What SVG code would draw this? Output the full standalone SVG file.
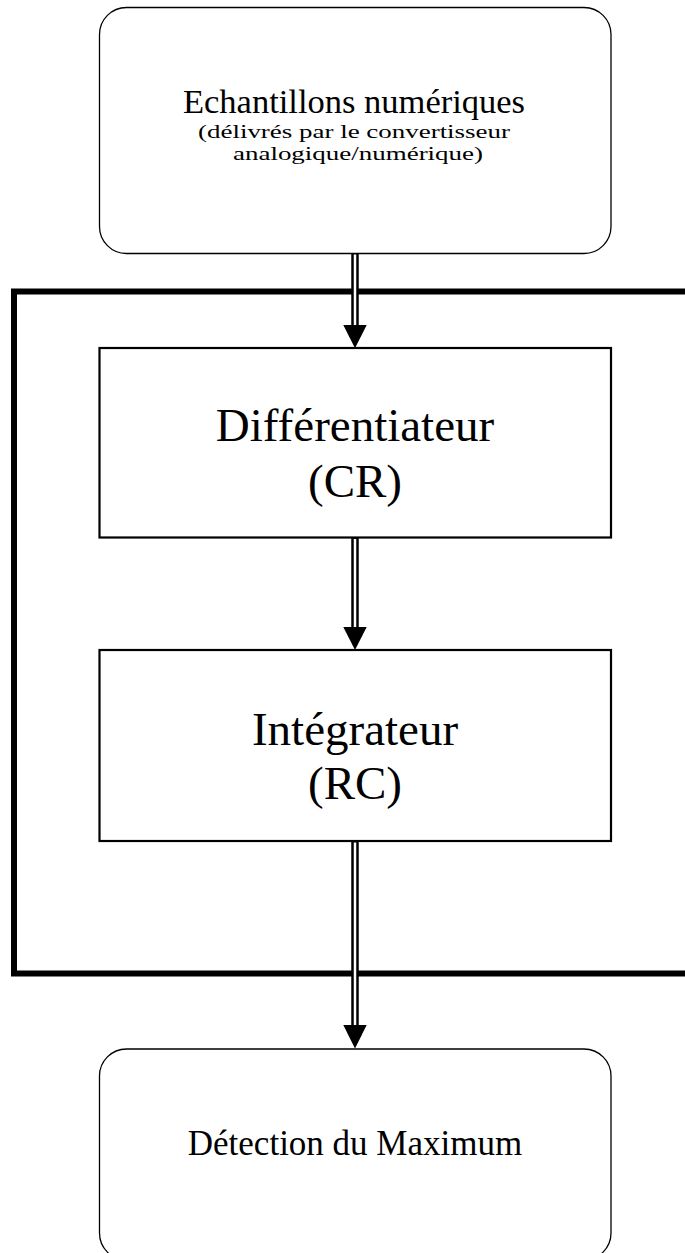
<svg xmlns="http://www.w3.org/2000/svg" width="685" height="1253" viewBox="0 0 685 1253">
  <style>
    text { font-family: "Liberation Serif", "Times New Roman", serif; fill: #000; text-anchor: middle; }
    .round { fill: #fff; stroke: #000; stroke-width: 1.3; }
    .block { fill: #fff; stroke: #000; stroke-width: 2.2; }
    .frame { fill: none; stroke: #000; stroke-width: 6; }
    .big { font-size: 47px; }
    .mid { font-size: 35px; }
    .small { font-size: 19.5px; }
    .shaft { stroke: #000; stroke-width: 7.5; fill: none; }
    .gap { stroke: #fff; stroke-width: 2.5; fill: none; }
  </style>
  <rect width="685" height="1253" fill="#fff"/>
  <g id="frame">
    <rect class="frame" x="14" y="291.5" width="700" height="682"/>
  </g>
  <g id="node-echantillons">
    <rect class="round" x="99.5" y="7.5" width="511.5" height="246" rx="27" ry="27"/>
    <text class="mid" x="354" y="113" style="font-size:34.5px">Echantillons numériques</text>
    <text class="small" x="354" y="138" textLength="312" lengthAdjust="spacingAndGlyphs">(délivrés par le convertisseur</text>
    <text class="small" x="358" y="159.5" textLength="250" lengthAdjust="spacingAndGlyphs">analogique/numérique)</text>
  </g>
  <g id="node-differentiateur">
    <rect class="block" x="99.5" y="348" width="511.5" height="189.5"/>
    <text class="big" x="355" y="441">Différentiateur</text>
    <text class="big" x="355" y="497">(CR)</text>
  </g>
  <g id="node-integrateur">
    <rect class="block" x="99.5" y="650" width="511.5" height="191"/>
    <text class="big" x="355" y="745">Intégrateur</text>
    <text class="big" x="355" y="799">(RC)</text>
  </g>
  <g id="node-detection">
    <rect class="round" x="99.5" y="1049" width="511.5" height="211" rx="27" ry="27"/>
    <text class="mid" x="355" y="1155">Détection du Maximum</text>
  </g>
  <g id="connectors">
    <line class="shaft" x1="355" y1="253.5" x2="355" y2="326"/>
    <line class="gap" x1="355" y1="254.5" x2="355" y2="326"/>
    <polygon points="343.3,325 366.7,325 355,348.3" fill="#000"/>
    <line class="shaft" x1="355" y1="538" x2="355" y2="628"/>
    <line class="gap" x1="355" y1="539" x2="355" y2="628"/>
    <polygon points="343.3,627 366.7,627 355,650" fill="#000"/>
    <line class="shaft" x1="355" y1="841.5" x2="355" y2="1026"/>
    <line class="gap" x1="355" y1="842.5" x2="355" y2="1026"/>
    <polygon points="343.3,1025 366.7,1025 355,1048.5" fill="#000"/>
  </g>
</svg>
